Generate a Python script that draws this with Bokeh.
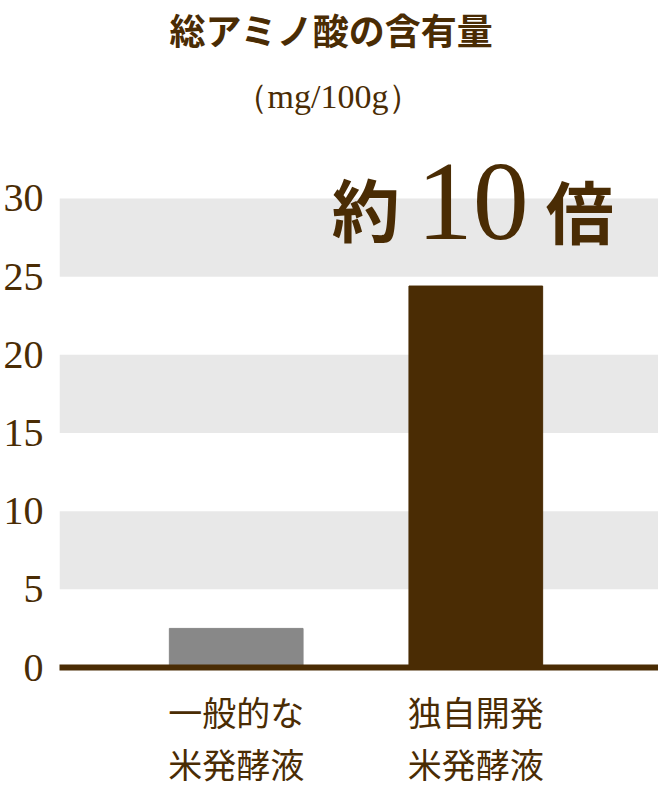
from bokeh.plotting import figure
from bokeh.models import Range1d, FixedTicker, LinearAxis, BoxAnnotation, Title, ColumnDataSource
from bokeh.core.properties import value
from bokeh.embed import file_html
from bokeh.resources import INLINE

# ---- data ----
title_text = "総アミノ酸の含有量"
unit_text = "（mg/100g）"
label_line1 = ["一般的な", "独自開発"]
label_line2 = ["米発酵液", "米発酵液"]
x_pos = [0, 1]
values = [2.5, 24.4]
bar_colors = ["#888888", "#4a2c04"]
y_ticks = [0, 5, 10, 15, 20, 25, 30]
band_bottom = [5, 15, 25]
band_top = [10, 20, 30]
callout_parts = ["約", "10", "倍"]

BROWN = "#4a2c04"
CJK = "Noto Sans CJK JP"
SERIF = "Liberation Serif"

p = figure(width=658, height=790, output_backend="svg", toolbar_location=None,
           x_range=Range1d(-0.7375, 1.7625), y_range=Range1d(0, 33.07),
           min_border_left=58, min_border_right=0, min_border_top=150,
           min_border_bottom=123, title=None)
p.outline_line_color = None
p.border_fill_color = "white"
p.xgrid.visible = False
p.ygrid.visible = False

# bands
for b, t in zip(band_bottom, band_top):
    p.add_layout(BoxAnnotation(bottom=b, top=t, fill_color="#e8e8e8", fill_alpha=1.0,
                               line_color=None, level="underlay"))

src = ColumnDataSource(dict(x=x_pos, top=values, color=bar_colors))
p.vbar(x="x", top="top", bottom=0, width=0.558, color="color", source=src)

# y axis
ya = p.yaxis[0]
ya.ticker = FixedTicker(ticks=y_ticks)
ya.axis_line_color = None
ya.major_tick_line_color = None
ya.major_tick_out = 0
ya.major_tick_in = 0
ya.minor_tick_line_color = None
ya.major_label_text_font = SERIF
ya.major_label_text_font_size = "40px"
ya.major_label_text_color = BROWN
ya.major_label_standoff = 16

# x axis line 1
xa = p.xaxis[0]
xa.ticker = FixedTicker(ticks=x_pos)
xa.major_label_overrides = {x: s for x, s in zip(x_pos, label_line1)}
xa.axis_line_color = BROWN
xa.axis_line_width = 6
xa.major_tick_line_color = None
xa.major_tick_out = 0
xa.major_tick_in = 0
xa.minor_tick_line_color = None
xa.major_label_text_font = CJK
xa.major_label_text_font_size = "34px"
xa.major_label_text_color = BROWN
xa.major_label_standoff = 19

# x axis line 2
xa2 = LinearAxis(ticker=FixedTicker(ticks=x_pos),
                 major_label_overrides={x: s for x, s in zip(x_pos, label_line2)})
xa2.axis_line_color = None
xa2.major_tick_line_color = None
xa2.major_tick_out = 0
xa2.major_tick_in = 0
xa2.minor_tick_line_color = None
xa2.major_label_text_font = CJK
xa2.major_label_text_font_size = "34px"
xa2.major_label_text_color = BROWN
xa2.major_label_standoff = 0
p.add_layout(xa2, "below")

# titles
t_unit = Title(text=unit_text, align="left", text_font=SERIF, text_font_size="34px",
               text_color=BROWN, text_font_style="normal", offset=174, standoff=72)
t_main = Title(text=title_text, align="left", text_font=CJK, text_font_size="36px",
               text_color=BROWN, text_font_style="bold", offset=110, standoff=-30)
p.add_layout(t_unit, "above")
p.add_layout(t_main, "above")

# callout "約10倍" anchored on the second bar at the axis top
cx = [x_pos[1]]
cy = [y_ticks[-1]]
p.text(x=cx, y=cy, text=[callout_parts[0]], text_font=value(CJK), text_font_size="68px",
       text_font_style="bold", text_color=BROWN, text_align="center",
       text_baseline="middle", x_offset=-110, y_offset=9)
p.text(x=cx, y=cy, text=[callout_parts[1]], text_font=value(SERIF), text_font_size="112px",
       text_color=BROWN, text_align="center", text_baseline="middle", x_offset=-3, y_offset=4)
p.text(x=cx, y=cy, text=[callout_parts[2]], text_font=value(CJK), text_font_size="68px",
       text_font_style="bold", text_color=BROWN, text_align="center",
       text_baseline="middle", x_offset=104, y_offset=11)

open("out.html", "w").write(file_html(p, INLINE))
